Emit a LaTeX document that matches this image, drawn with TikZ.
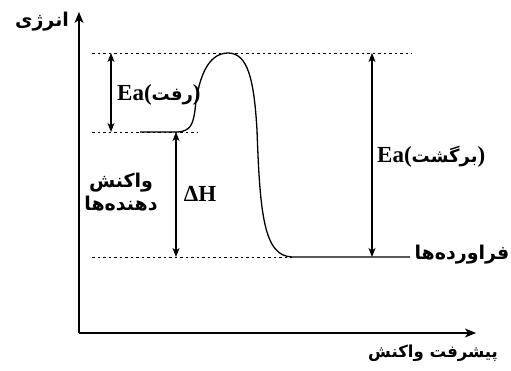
\documentclass[tikz,border=0pt]{standalone}
\usepackage{fontspec}
\setmainfont{Liberation Serif}
\newfontfamily\fafont[Script=Arabic]{DejaVu Sans}
\TeXXeTstate=1
\usetikzlibrary{arrows.meta}

\begin{document}
\begin{tikzpicture}[
  x=1pt, y=-1pt,
  axis/.style={line width=1.4pt, -{Stealth[length=11pt,width=9pt,inset=3pt]}},
  level/.style={dotted, line width=0.9pt, dash pattern=on 2.5pt off 3pt},
  curve/.style={line width=1.3pt},
  dim/.style={line width=1.1pt, {Stealth[length=9pt,width=7pt,inset=2.5pt]}-{Stealth[length=9pt,width=7pt,inset=2.5pt]}},
  falabel/.style={font=\fafont\bfseries\fontsize{19}{23}\selectfont, align=center, inner sep=0pt},
  latlabel/.style={font=\bfseries\fontsize{23}{25}\selectfont, inner sep=0pt}
]
\useasboundingbox (0,0) rectangle (511,371);

% Axes
\coordinate (origin) at (79,333);
\coordinate (ytip) at (79,12);
\coordinate (xtip) at (476,333);
\draw[axis] (origin) -- (ytip);
\draw[axis] (origin) -- (xtip);
\node[falabel] (energy) at (42,22) {\beginR انرژی\endR};
\node[falabel,font=\fafont\bfseries\fontsize{16.5}{20}\selectfont] (progress) at (433,353) {\beginR پیشرفت واکنش\endR};

% Energy levels
\coordinate (topL) at (92,53);
\coordinate (topR) at (412,53);
\coordinate (reactL) at (92,132);
\coordinate (reactR) at (198,132);
\coordinate (prodL) at (92,257);
\coordinate (prodR) at (292,257);
\draw[level] (topL) -- (topR);
\draw[level] (reactL) -- (reactR);
\draw[level] (prodL) -- (prodR);

% Reaction path
\draw[curve] (140,132) -- (178,132)
  .. controls (190,131) and (193,125) .. (195,110)
  .. controls (198,80) and (207,53) .. (228,53)
  .. controls (248,53) and (254,80) .. (257,130)
  .. controls (260,215) and (264,256) .. (292,257) -- (410,257);

% Dimension arrows
\coordinate (eaTop) at (111,53);
\coordinate (eaBot) at (111,132);
\coordinate (dhTop) at (176,132);
\coordinate (dhBot) at (176,257);
\coordinate (erTop) at (372,53);
\coordinate (erBot) at (372,257);
\draw[dim] (eaTop) -- (eaBot);
\draw[dim] (dhTop) -- (dhBot);
\draw[dim] (erTop) -- (erBot);

% Labels
\node[latlabel,anchor=west] (eaf) at (117,95) {Ea({\fafont\bfseries\fontsize{18}{22}\selectfont\beginR رفت\endR})};
\node[latlabel] (dh) at (200,194) {ΔH};
\node[falabel] (reactants) at (121,192) {\beginR واکنش\endR\\\beginR دهنده‌ها\endR};
\node[latlabel,anchor=west] (ear) at (377,157) {Ea({\fafont\bfseries\fontsize{18}{22}\selectfont\beginR برگشت\endR})};
\node[falabel] (products) at (462,255) {\beginR فراورده‌ها\endR};
\end{tikzpicture}
\end{document}
